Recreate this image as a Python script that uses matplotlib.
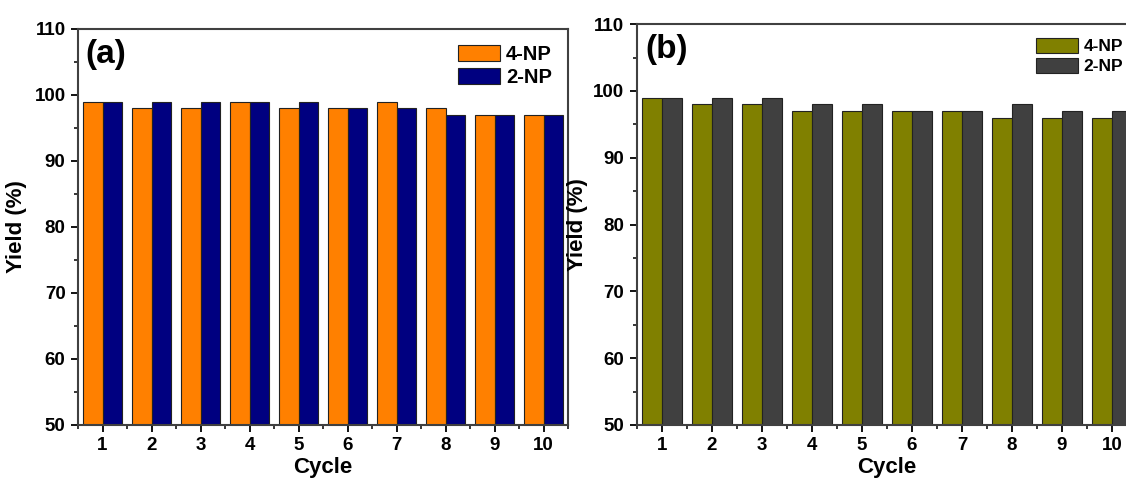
import matplotlib.pyplot as plt
import numpy as np
from matplotlib.ticker import MultipleLocator

plt.rcParams["font.family"] = ["Liberation Sans", "DejaVu Sans"]
plt.rcParams["font.weight"] = "bold"

cycles = np.arange(1, 11)
yield_a_4np = [99, 98, 98, 99, 98, 98, 99, 98, 97, 97]
yield_a_2np = [99, 99, 99, 99, 99, 98, 98, 97, 97, 97]
yield_b_4np = [99, 98, 98, 97, 97, 97, 97, 96, 96, 96]
yield_b_2np = [99, 99, 99, 98, 98, 97, 97, 98, 97, 97]

fig = plt.figure(figsize=(11.26, 4.8), dpi=100)
ax_a = fig.add_axes([0.0693, 0.1146, 0.4352, 0.825])
ax_b = fig.add_axes([0.5657, 0.1146, 0.444, 0.835])

# axis, data, colours, tag, legend size, ylabel x position
panels = [
    (ax_a, yield_a_4np, yield_a_2np, "#ff8000", "#000080", "(a)", 14.5, -0.105),
    (ax_b, yield_b_4np, yield_b_2np, "#808000", "#404040", "(b)", 12.5, -0.098),
]

width = 0.4
for ax, s1, s2, c1, c2, tag, leg_fs, ylab_x in panels:
    ax.bar(cycles - width / 2, np.array(s1) - 50, width, bottom=50, color=c1,
           edgecolor="#222222", linewidth=0.8, label="4-NP")
    ax.bar(cycles + width / 2, np.array(s2) - 50, width, bottom=50, color=c2,
           edgecolor="#222222", linewidth=0.8, label="2-NP")
    ax.set_xlim(0.5, 10.5)
    ax.set_ylim(50, 110)
    ax.set_xticks(cycles)
    ax.xaxis.set_minor_locator(MultipleLocator(0.5))
    ax.yaxis.set_major_locator(MultipleLocator(10))
    ax.yaxis.set_minor_locator(MultipleLocator(5))
    ax.tick_params(axis="both", which="major", direction="out", length=5,
                   width=1.3, labelsize=13.5, pad=4)
    ax.tick_params(axis="both", which="minor", direction="out", length=3,
                   width=1.1)
    for lbl in ax.get_xticklabels() + ax.get_yticklabels():
        lbl.set_fontweight("bold")
    for sp in ax.spines.values():
        sp.set_linewidth(1.5)
        sp.set_color("#404040")
    ax.set_xlabel("Cycle", fontsize=16, fontweight="bold", labelpad=2)
    ax.set_ylabel("Yield (%)", fontsize=16, fontweight="bold")
    ax.yaxis.set_label_coords(ylab_x, 0.5)
    ax.text(0.016, 0.975, tag, transform=ax.transAxes, fontsize=24,
            fontweight="bold", va="top", ha="left")
    fs_px = leg_fs * 100 / 72
    ax.legend(loc="upper right", frameon=False,
              handlelength=42 / fs_px, handleheight=16 / fs_px,
              labelspacing=0.2, handletextpad=0.3, borderaxespad=0.6,
              borderpad=0.2, prop={"weight": "bold", "size": leg_fs})

fig.savefig("out.png", dpi=100)
